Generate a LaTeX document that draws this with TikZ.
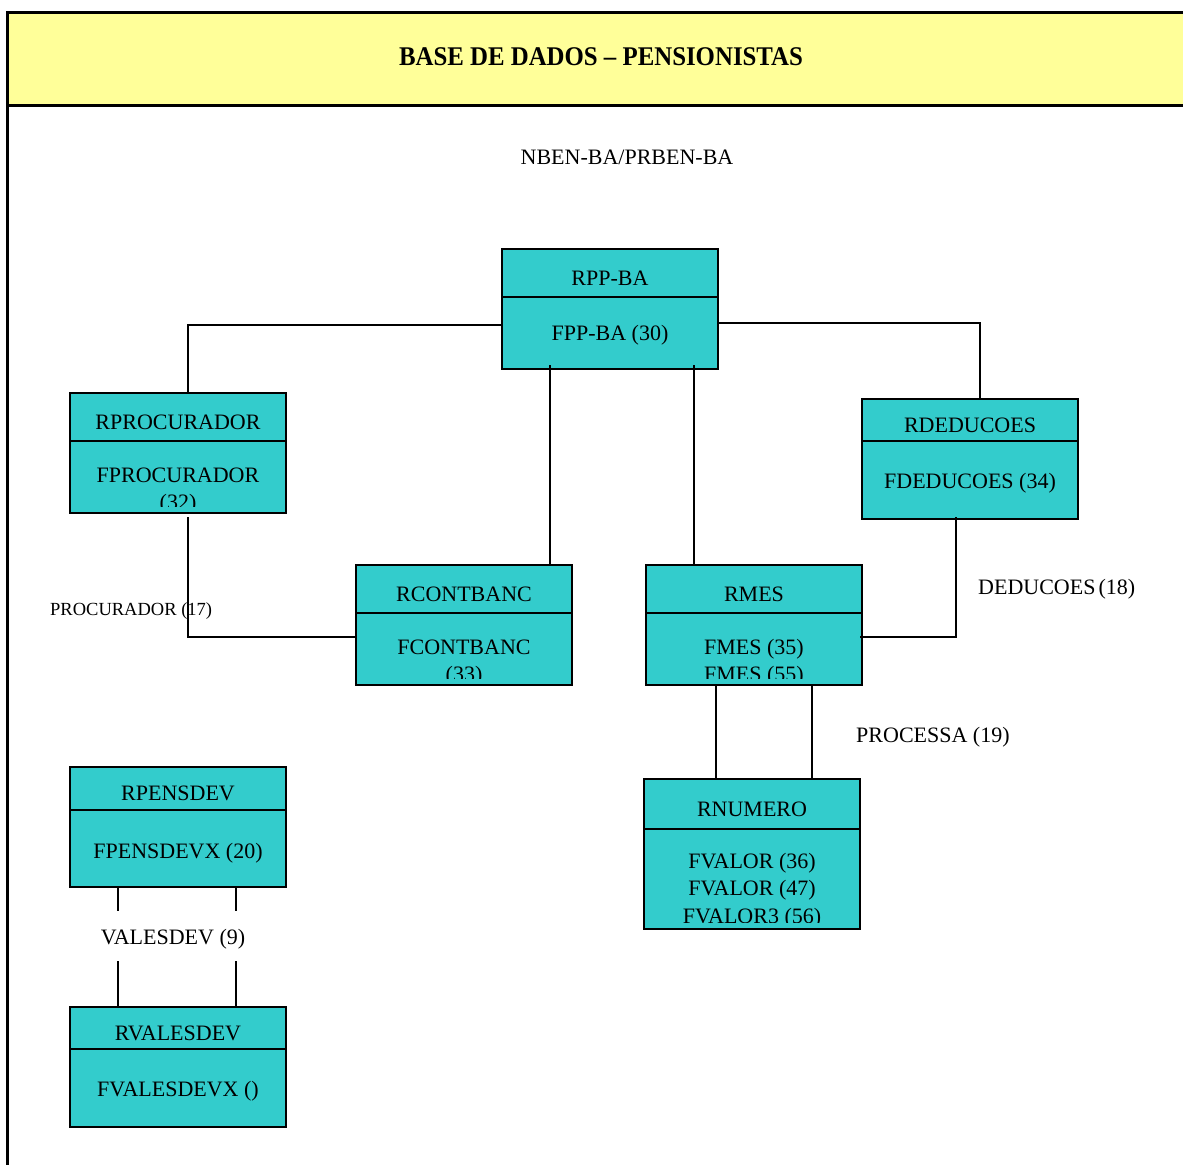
\documentclass[tikz,border=0pt]{standalone}
\usepackage{fontspec}
\setmainfont{Liberation Serif}
\usetikzlibrary{calc}

\definecolor{entfill}{RGB}{51,204,204}
\definecolor{titlebg}{RGB}{255,255,153}

% One record box: name, left x, top y, height, divider y, record name,
% baseline of the first field line, list of field lines
\newcommand\entbox[8]{%
  \node[entity, minimum height=#4pt, anchor=north west] (#1) at (#2,#3) {};
  \draw[rule] (#2,#5) -- ++(216,0);
  \node[anchor=base] (#1-title) at ({#2+108},{(#3+#5)/2+12}) {#6};
  \begin{scope}
    \clip (#2,#5) rectangle ({#2+216},{#3+#4-7});
    \foreach \fline [count=\k from 0] in {#8} {
      \node[anchor=base] (#1-line\k) at ({#2+108},{#7+27.5*\k}) {\fline};
    }
  \end{scope}
}

\begin{document}
\begin{tikzpicture}[x=1pt,y=-1pt,
  every node/.style={inner sep=0pt, font=\fontsize{22}{27}\selectfont},
  entity/.style={draw=black, line width=1.8pt, fill=entfill, minimum width=216pt, inner sep=0pt, outer sep=0pt},
  rule/.style={line width=1.8pt},
  link/.style={line width=1.8pt},
  framerule/.style={line width=3pt},
  small/.style={font=\fontsize{18.5}{22}\selectfont}]

\useasboundingbox (0,0) rectangle (1183,1165);

% heading band and page frame
\fill[titlebg] (7,12) rectangle (1183,106);
\draw[framerule] (1183,12.5) -- (7.5,12.5) -- (7.5,1165);
\draw[framerule] (7.5,105.5) -- (1183,105.5);
\node[font=\fontsize{27}{30}\selectfont\bfseries] (title) at (601,57)
  {\scalebox{0.92}[1]{BASE DE DADOS \textendash{} PENSIONISTAS}};

\node[anchor=base] (areaname) at (627,164) {NBEN-BA/PRBEN-BA};

% record boxes
\entbox{rppba}{502}{249}{120}{297}{RPP-BA}{340}{{FPP-BA (30)}}
\entbox{rproc}{70}{393}{120}{441}{RPROCURADOR}{482}{{FPROCURADOR},{(32)}}
\entbox{rded}{862}{399}{120}{441}{RDEDUCOES}{488}{{FDEDUCOES (34)}}
\entbox{rcont}{356}{565}{120}{613}{RCONTBANC}{654}{{FCONTBANC},{(33)}}
\entbox{rmes}{646}{565}{120}{613}{RMES}{654}{{FMES (35)},{FMES (55)}}
\entbox{rnum}{644}{779}{150}{829}{RNUMERO}{868}{{FVALOR (36)},{FVALOR (47)},{FVALOR3 (56)}}
\entbox{rpens}{70}{767}{120}{810}{RPENSDEV}{858}{{FPENSDEVX (20)}}
\entbox{rvales}{70}{1007}{120}{1049}{RVALESDEV}{1096}{{FVALESDEVX ()}}

% set relation labels
\node[small, anchor=base west] (lproc) at (50,615) {PROCURADOR (17)};
\node[anchor=base west] (lded) at (978,594) {DEDUCOES\hspace{3pt}(18)};
\node[anchor=base west] (lproc19) at (856,742) {PROCESSA (19)};
\node[minimum height=50pt] (lvales) at (173,936) {};
\node[anchor=base] (lvalestext) at (173,944) {VALESDEV (9)};

% owner -> member links
\draw[link] ([yshift=-16pt]rppba.west) -| ([xshift=10pt]rproc.north);
\draw[link] ([yshift=-14pt]rppba.east) -| ([xshift=10pt]rded.north);
\coordinate (a1) at ([xshift=-60pt]rppba.south);
\draw[link] ([yshift=4pt]a1) -- (a1 |- rcont.north);
\coordinate (a2) at ([xshift=84pt]rppba.south);
\draw[link] ([yshift=4pt]a2) -- (a2 |- rmes.north);
\draw[link] ([xshift=10pt,yshift=-4pt]rproc.south) |- ([yshift=-12pt]rcont.west);
\draw[link] ([xshift=-14pt,yshift=2pt]rded.south) |- ([xshift=-2pt,yshift=-12pt]rmes.east);
\coordinate (b1) at ([xshift=-38pt]rmes.south);
\coordinate (b2) at ([xshift=58pt]rmes.south);
\draw[link] (b1) -- (b1 |- rnum.north);
\draw[link] (b2) -- (b2 |- rnum.north);
\coordinate (c1) at ([xshift=-60pt]rpens.south);
\coordinate (c2) at ([xshift=58pt]rpens.south);
\draw[link] (c1) -- (c1 |- lvales.north);
\draw[link] (c2) -- (c2 |- lvales.north);
\draw[link] (c1 |- lvales.south) -- (c1 |- rvales.north);
\draw[link] (c2 |- lvales.south) -- (c2 |- rvales.north);
\end{tikzpicture}
\end{document}
